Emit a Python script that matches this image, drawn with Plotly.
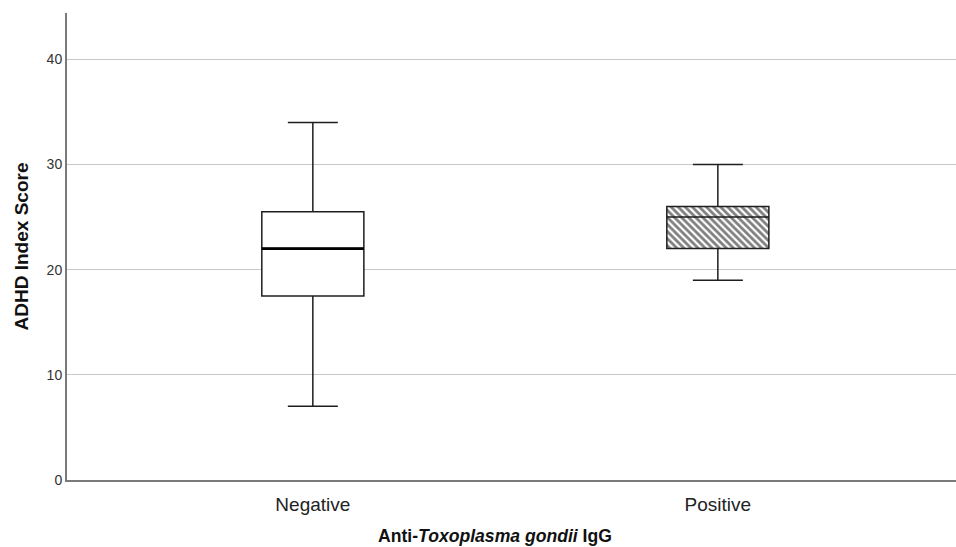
import plotly.graph_objects as go

categories = ["Negative", "Positive"]
positions = [0, 1]
lower_whisker = [7, 19]
q1 = [17.5, 22]
median = [22, 25]
q3 = [25.5, 26]
upper_whisker = [34, 30]
y_ticks = [0, 10, 20, 30, 40]

BOX_W = 0.252
LINE = "#1e1e1e"
FONT = "Arial, Liberation Sans, sans-serif"

fig = go.Figure()

# hatched fill for the positive group (drawn from its quartiles)
fig.add_trace(go.Bar(
    x=[positions[1]], y=[q3[1] - q1[1]], base=[q1[1]], width=BOX_W,
    marker=dict(color="white", line=dict(width=0),
                pattern=dict(shape="\\", fgcolor="#000000", bgcolor="white",
                             size=5, solidity=0.55)),
    hoverinfo="skip", showlegend=False,
))

fills = ["white", "rgba(0,0,0,0)"]
for i in range(2):
    fig.add_trace(go.Box(
        x=[positions[i]], q1=[q1[i]], median=[median[i]], q3=[q3[i]],
        lowerfence=[lower_whisker[i]], upperfence=[upper_whisker[i]],
        width=BOX_W, whiskerwidth=0.49, fillcolor=fills[i],
        line=dict(color=LINE, width=1.5), boxpoints=False,
        showlegend=False, name=categories[i],
    ))

# thicker median line for the negative group
fig.add_trace(go.Scatter(
    x=[positions[0] - BOX_W / 2, positions[0] + BOX_W / 2],
    y=[median[0], median[0]], mode="lines",
    line=dict(color="#000000", width=2.8), hoverinfo="skip", showlegend=False,
))

fig.update_layout(
    width=956, height=547,
    margin=dict(l=67, r=0, t=13, b=67),
    plot_bgcolor="white", paper_bgcolor="white",
    font=dict(family=FONT, color="#222222"),
    bargap=0,
    xaxis=dict(
        range=[-0.607, 1.588], tickmode="array", tickvals=positions, ticktext=categories,
        showgrid=False, zeroline=False, showline=True, linecolor="#7a7a7a", linewidth=2,
        ticks="", tickfont=dict(size=19, color="#222222"), ticklabelstandoff=6,
    ),
    yaxis=dict(
        range=[0, 44.4], tickmode="array", tickvals=y_ticks,
        showgrid=True, gridcolor="#c8c8c8", gridwidth=1.2, zeroline=False,
        showline=True, linecolor="#7a7a7a", linewidth=2,
        ticks="", tickfont=dict(size=14, color="#333333"), ticklabelstandoff=0,
        title=dict(text="<b>ADHD Index Score</b>", font=dict(size=19, color="#111111"), standoff=13),
    ),
    annotations=[dict(
        text="<b>Anti-<i>Toxoplasma gondii</i> IgG</b>", xref="paper", yref="paper",
        x=(495 - 67) / (956 - 67), y=-0.12, xanchor="center", yanchor="middle",
        showarrow=False, font=dict(size=17.6, color="#111111"),
    )],
)

fig.write_html("out.html")
